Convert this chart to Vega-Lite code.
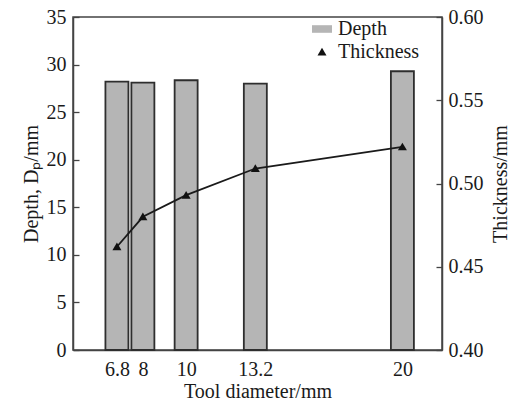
{
  "$schema": "https://vega.github.io/schema/vega-lite/v6.json",
  "width": 369,
  "height": 333,
  "autosize": "none",
  "padding": {"left": 73, "top": 17, "right": 71, "bottom": 52},
  "background": "white",
  "config": {
    "font": "Liberation Serif",
    "view": {"stroke": "#444", "strokeWidth": 1.5},
    "axis": {
      "labelFont": "Liberation Serif",
      "titleFont": "Liberation Serif",
      "labelFontSize": 20,
      "titleFontSize": 20,
      "titleFontWeight": "normal",
      "labelColor": "#1a1a1a",
      "titleColor": "#1a1a1a",
      "domainColor": "#444",
      "domainWidth": 1.5,
      "tickColor": "#444",
      "tickWidth": 1.3,
      "grid": false
    },
    "legend": {
      "labelFont": "Liberation Serif",
      "labelFontSize": 20,
      "labelColor": "#1a1a1a"
    }
  },
  "data": {
    "values": [
      {"d": 6.8, "depth": 28.2, "thick": 0.462},
      {"d": 8, "depth": 28.1, "thick": 0.480},
      {"d": 10, "depth": 28.35, "thick": 0.493},
      {"d": 13.2, "depth": 28.0, "thick": 0.509},
      {"d": 20, "depth": 29.3, "thick": 0.522}
    ]
  },
  "layer": [
    {
      "mark": {"type": "bar", "size": 23, "fill": "#b5b5b5", "stroke": "#2e2e2e", "strokeWidth": 1.8, "strokeOpacity": 1},
      "encoding": {
        "x": {
          "field": "d", "type": "quantitative",
          "scale": {"domain": [5, 21.6], "nice": false, "zero": false},
          "axis": {"values": [6.8, 8, 10, 13.2, 20], "format": ".3~g", "title": "Tool diameter/mm", "ticks": false, "labelPadding": 9, "titlePadding": 2, "labelFlush": false}
        },
        "y": {
          "field": "depth", "type": "quantitative",
          "scale": {"domain": [0, 35], "nice": false},
          "axis": {"orient": "left", "values": [0, 5, 10, 15, 20, 25, 30, 35], "title": "Depth, Dₚ/mm", "tickSize": -6, "labelPadding": 13, "titlePadding": 5}
        }
      }
    },
    {
      "encoding": {
        "x": {"field": "d", "type": "quantitative", "scale": {"domain": [5, 21.6], "nice": false, "zero": false}},
        "y": {
          "field": "thick", "type": "quantitative",
          "scale": {"domain": [0.4, 0.6], "nice": false, "zero": false},
          "axis": {"orient": "right", "values": [0.4, 0.45, 0.5, 0.55, 0.6], "format": ".2f", "title": "Thickness/mm", "titleAngle": 270, "tickSize": -6, "labelPadding": 12, "titlePadding": 27}
        }
      },
      "layer": [
        {"mark": {"type": "line", "color": "#1a1a1a", "strokeWidth": 1.8}},
        {
          "mark": {"type": "point", "filled": true, "opacity": 1, "size": 400},
          "encoding": {
            "shape": {
              "datum": "Thickness", "type": "nominal",
              "scale": {"domain": ["Depth", "Thickness"], "range": ["M-1,-0.38H1V0.38H-1Z", "M0,-0.42L0.45,0.35L-0.45,0.35Z"]},
              "legend": {"title": null, "orient": "none", "legendX": 238, "legendY": 1, "symbolSize": 400, "labelOffset": 5, "rowPadding": 2, "padding": 0,
                "encode": {"symbols": {"update": {"stroke": {"value": "#2e2e2e"}, "strokeWidth": {"value": 1.4}}}}}
            },
            "color": {
              "datum": "Thickness", "type": "nominal",
              "scale": {"domain": ["Depth", "Thickness"], "range": ["#b5b5b5", "#111111"]},
              "legend": {"title": null, "orient": "none", "legendX": 238, "legendY": 1, "symbolSize": 400, "labelOffset": 5, "rowPadding": 2, "padding": 0,
                "encode": {"symbols": {"update": {"stroke": {"value": "#2e2e2e"}, "strokeWidth": {"value": 1.4}}}}}
            }
          }
        }
      ]
    }
  ],
  "resolve": {"scale": {"y": "independent"}}
}
